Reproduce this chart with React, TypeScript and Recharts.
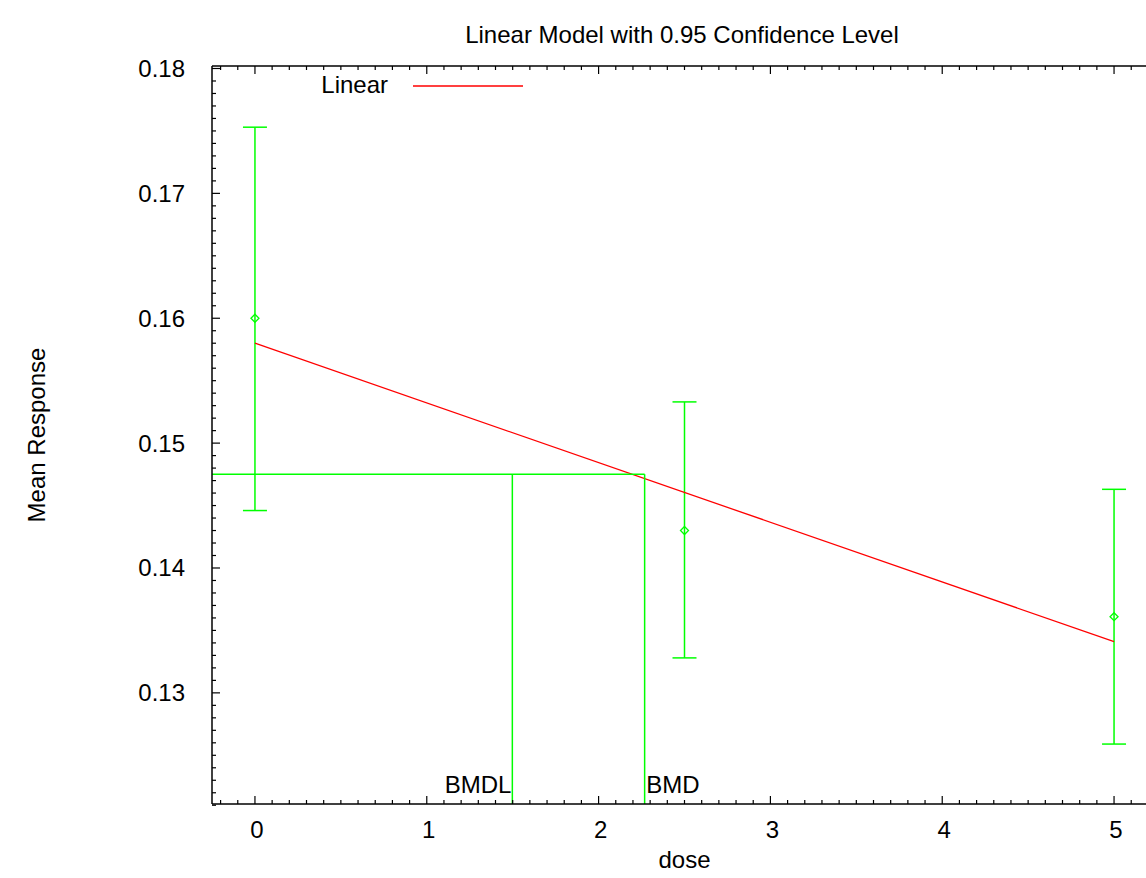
import React from 'react';
import { ComposedChart, XAxis, YAxis, Scatter, ErrorBar, Line, ReferenceLine, Legend } from 'recharts';

// observed dose groups (mean with 95% CI)
const doses = [0, 2.5, 5];
const means = [0.16, 0.143, 0.1361];
const lowerCI = [0.1446, 0.1328, 0.1259];
const upperCI = [0.1753, 0.1533, 0.1463];

// fitted linear model, drawn between the first and last dose
const fitDoses = [0, 5];
const fitValues = [0.158, 0.1341];

// benchmark dose lines
const bmrResponse = 0.1475;
const bmdl = 1.498;
const bmd = 2.268;

const xTickLabels = [0, 1, 2, 3, 4, 5];
const yTickLabels = [0.13, 0.14, 0.15, 0.16, 0.17, 0.18];
const X_DOMAIN: [number, number] = [-0.25, 5.25];
const Y_DOMAIN: [number, number] = [0.1211, 0.1802];

const xMinorTicks = Array.from({ length: 55 }, (_, i) => (i - 2) / 10);
const yMinorTicks = Array.from({ length: 60 }, (_, i) => (121 + i) / 1000);

const GREEN = '#00ff00';
const RED = '#ff0000';
const FONT = '"Liberation Sans", Arial, Helvetica, sans-serif';

const obsData = doses.map((d, i) => ({
  dose: d,
  value: means[i],
  ci: [means[i] - lowerCI[i], upperCI[i] - means[i]],
}));
const fitData = fitDoses.map((d, i) => ({ dose: d, value: fitValues[i] }));

const findLabel = (v: number, labels: number[]) => labels.find((l) => Math.abs(l - v) < 1e-9);

function BottomTick(p: any) {
  const label = findLabel(p.payload.value, xTickLabels);
  const major = label !== undefined;
  return (
    <g>
      <line x1={p.x} y1={p.y} x2={p.x} y2={p.y - (major ? 8 : 4)} stroke="#000" strokeWidth={1.2} />
      {major && (
        <text x={p.x + 2} y={p.y + 34} textAnchor="middle" fontSize={24} fill="#000" fontFamily={FONT}>
          {String(label)}
        </text>
      )}
    </g>
  );
}

function TopTick(p: any) {
  const major = findLabel(p.payload.value, xTickLabels) !== undefined;
  return <line x1={p.x} y1={p.y} x2={p.x} y2={p.y + (major ? 8 : 4)} stroke="#000" strokeWidth={1.2} />;
}

function LeftTick(p: any) {
  const label = findLabel(p.payload.value, yTickLabels);
  const major = label !== undefined;
  return (
    <g>
      <line x1={p.x} y1={p.y} x2={p.x + (major ? 8 : 4)} y2={p.y} stroke="#000" strokeWidth={1.2} />
      {major && (
        <text x={p.x - 27} y={p.y} dy="0.35em" textAnchor="end" fontSize={24} fill="#000" fontFamily={FONT}>
          {String(label)}
        </text>
      )}
    </g>
  );
}

function RightTick(p: any) {
  const major = findLabel(p.payload.value, yTickLabels) !== undefined;
  return <line x1={p.x} y1={p.y} x2={p.x - (major ? 8 : 4)} y2={p.y} stroke="#000" strokeWidth={1.2} />;
}

function Diamond(p: any) {
  const r = 4;
  const { cx, cy } = p;
  return (
    <polygon
      points={`${cx},${cy - r} ${cx + r},${cy} ${cx},${cy + r} ${cx - r},${cy}`}
      fill="none"
      stroke={GREEN}
      strokeWidth={1.3}
    />
  );
}

function BmdText(p: any) {
  const name = p.payload.name;
  const isLower = name === 'BMDL';
  return (
    <text
      x={isLower ? p.cx - 1 : p.cx + 1.5}
      y={p.cy - 11}
      textAnchor={isLower ? 'end' : 'start'}
      fontSize={24}
      fill="#000"
      fontFamily={FONT}
    >
      {name}
    </text>
  );
}

const bmdLabels = [
  { dose: bmdl, value: Y_DOMAIN[0], name: 'BMDL' },
  { dose: bmd, value: Y_DOMAIN[0], name: 'BMD' },
];

function LegendBox() {
  return (
    <svg width={240} height={32} style={{ display: 'block' }}>
      <text x={88} y={27} textAnchor="end" fontSize={24} fill="#000" fontFamily={FONT}>
        Linear
      </text>
      <line x1={113} y1={20} x2={223} y2={20} stroke={RED} strokeWidth={1.5} />
    </svg>
  );
}

const axisLine = { stroke: '#000', strokeWidth: 1.5 };

export default function App() {
  return (
    <div
      style={{
        position: 'absolute',
        left: 0,
        top: 0,
        width: 1146,
        height: 878,
        overflow: 'hidden',
        background: '#fff',
        fontFamily: FONT,
      }}
    >
      <div
        style={{
          position: 'absolute',
          left: 212,
          top: 21,
          width: 940,
          lineHeight: '28px',
          fontSize: 24,
          textAlign: 'center',
          color: '#000',
        }}
      >
        Linear Model with 0.95 Confidence Level
      </div>
      <div
        style={{
          position: 'absolute',
          left: 212,
          top: 846,
          width: 945,
          lineHeight: '28px',
          fontSize: 24,
          textAlign: 'center',
          color: '#000',
        }}
      >
        dose
      </div>
      <div
        style={{
          position: 'absolute',
          left: 37 - 150,
          top: 435 - 14,
          width: 300,
          height: 28,
          lineHeight: '28px',
          fontSize: 24,
          textAlign: 'center',
          color: '#000',
          transform: 'rotate(-90deg)',
        }}
      >
        Mean Response
      </div>
      <ComposedChart width={1190} height={878} margin={{ top: 46, right: 23, bottom: 14, left: 112 }}>
        <XAxis
          xAxisId="b"
          dataKey="dose"
          type="number"
          domain={X_DOMAIN}
          allowDataOverflow
          ticks={xMinorTicks}
          interval={0}
          height={60}
          tickSize={0}
          tickMargin={0}
          tickLine={false}
          axisLine={axisLine}
          tick={(p: any) => <BottomTick {...p} />}
        />
        <XAxis
          xAxisId="t"
          orientation="top"
          dataKey="dose"
          type="number"
          domain={X_DOMAIN}
          allowDataOverflow
          ticks={xMinorTicks}
          interval={0}
          height={20}
          tickSize={0}
          tickMargin={0}
          tickLine={false}
          axisLine={axisLine}
          tick={(p: any) => <TopTick {...p} />}
        />
        <YAxis
          yAxisId="l"
          dataKey="value"
          type="number"
          domain={Y_DOMAIN}
          allowDataOverflow
          ticks={yMinorTicks}
          interval={0}
          width={100}
          tickSize={0}
          tickMargin={0}
          tickLine={false}
          axisLine={axisLine}
          tick={(p: any) => <LeftTick {...p} />}
        />
        <YAxis
          yAxisId="r"
          orientation="right"
          dataKey="value"
          type="number"
          domain={Y_DOMAIN}
          allowDataOverflow
          ticks={yMinorTicks}
          interval={0}
          width={10}
          tickSize={0}
          tickMargin={0}
          tickLine={false}
          axisLine={axisLine}
          tick={(p: any) => <RightTick {...p} />}
        />
        <Legend
          layout="horizontal"
          verticalAlign="middle"
          align="center"
          wrapperStyle={{ top: 66, left: 300, width: 240, height: 32 }}
          content={() => <LegendBox />}
        />
        <Scatter
          name="Observed"
          data={obsData}
          xAxisId="b"
          yAxisId="l"
          shape={(p: any) => <Diamond {...p} />}
          isAnimationActive={false}
        >
          <ErrorBar dataKey="ci" direction="y" width={12} stroke={GREEN} strokeWidth={1.5} isAnimationActive={false} />
        </Scatter>
        <Line
          name="Linear"
          data={fitData}
          dataKey="value"
          xAxisId="b"
          yAxisId="l"
          type="linear"
          stroke={RED}
          strokeWidth={1.3}
          dot={false}
          activeDot={false}
          isAnimationActive={false}
        />
        <ReferenceLine
          xAxisId="b"
          yAxisId="l"
          ifOverflow="visible"
          segment={[{ x: X_DOMAIN[0], y: bmrResponse }, { x: bmd, y: bmrResponse }]}
          stroke={GREEN}
          strokeWidth={1.5}
        />
        <ReferenceLine
          xAxisId="b"
          yAxisId="l"
          ifOverflow="visible"
          segment={[{ x: bmdl, y: bmrResponse }, { x: bmdl, y: Y_DOMAIN[0] }]}
          stroke={GREEN}
          strokeWidth={1.5}
        />
        <ReferenceLine
          xAxisId="b"
          yAxisId="l"
          ifOverflow="visible"
          segment={[{ x: bmd, y: bmrResponse }, { x: bmd, y: Y_DOMAIN[0] }]}
          stroke={GREEN}
          strokeWidth={1.5}
        />
        <Scatter
          name="BMD labels"
          data={bmdLabels}
          xAxisId="b"
          yAxisId="l"
          shape={(p: any) => <BmdText {...p} />}
          isAnimationActive={false}
        />
      </ComposedChart>
    </div>
  );
}
